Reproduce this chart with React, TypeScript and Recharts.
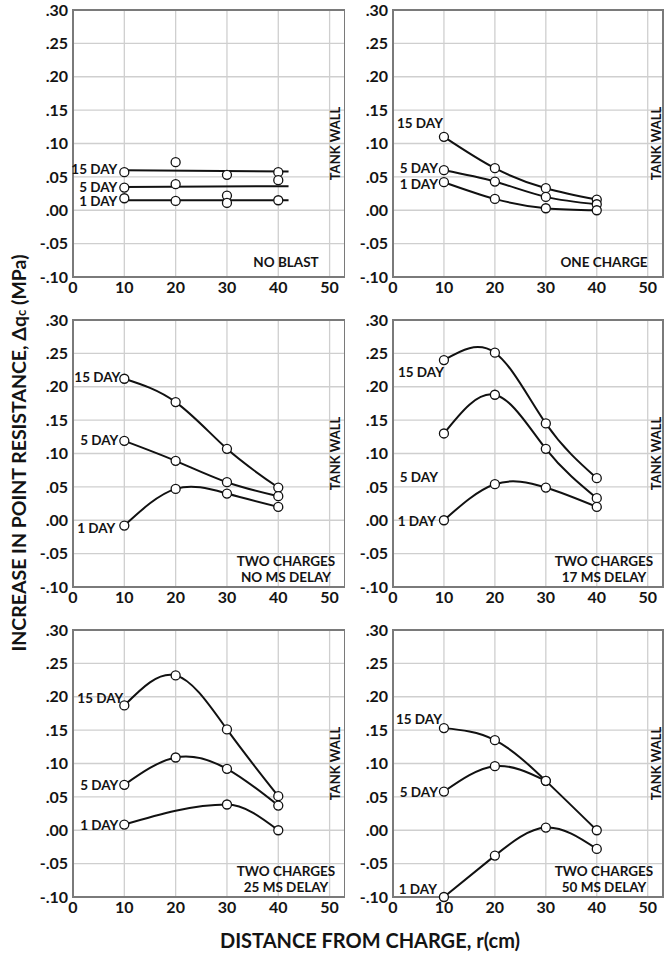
import React from "react";
import {
  ComposedChart,
  Line,
  XAxis,
  YAxis,
  CartesianGrid,
  ReferenceArea,
  ReferenceLine,
} from "recharts";

const FONT = "Lato, 'Open Sans', sans-serif";
const INK = "#141414";

// distances from charge (cm)
const distCm = [10, 20, 30, 40];
const xTicks = [0, 10, 20, 30, 40, 50];
const yTicks = [-0.1, -0.05, 0, 0.05, 0.1, 0.15, 0.2, 0.25, 0.3];

// NO BLAST - measured points and fitted straight lines
const noBlast15 = [0.057, 0.072, 0.053, 0.057];
const noBlast5 = [0.034, 0.039, 0.022, 0.045];
const noBlast1 = [0.018, 0.014, 0.011, 0.015];
const noBlastFitX = [10, 42];
const noBlastFit15 = [0.06, 0.058];
const noBlastFit5 = [0.035, 0.036];
const noBlastFit1 = [0.015, 0.015];

// ONE CHARGE
const oneCharge15 = [0.11, 0.063, 0.033, 0.016];
const oneCharge5 = [0.06, 0.043, 0.02, 0.009];
const oneCharge1 = [0.042, 0.017, 0.003, 0.0];

// TWO CHARGES, NO MS DELAY
const noDelay15 = [0.212, 0.177, 0.107, 0.049];
const noDelay5 = [0.119, 0.089, 0.057, 0.036];
const noDelay1 = [-0.008, 0.047, 0.04, 0.02];

// TWO CHARGES, 17 MS DELAY
const delay17_15 = [0.24, 0.251, 0.145, 0.063];
const delay17_5 = [0.13, 0.188, 0.107, 0.033];
const delay17_1 = [0.0, 0.054, 0.049, 0.02];

// TWO CHARGES, 25 MS DELAY
const delay25_15 = [0.187, 0.232, 0.151, 0.051];
const delay25_5 = [0.068, 0.109, 0.092, 0.037];
const delay25_1X = [10, 30, 40];
const delay25_1 = [0.0085, 0.0386, 0.0];

// TWO CHARGES, 50 MS DELAY
const delay50_15 = [0.153, 0.135, 0.074, 0.0];
const delay50_5X = [10, 20, 30];
const delay50_5 = [0.058, 0.096, 0.074];
const delay50_1 = [-0.1, -0.038, 0.004, -0.028];

const pts = (xs: number[], ys: number[]) => xs.map((x, i) => ({ x, y: ys[i] }));

const fmtY = (v: number) => (v < 0 ? "-" : "") + Math.abs(v).toFixed(2).slice(1);

type Series = {
  name?: string;
  data: { x: number; y: number }[];
  curve?: "natural" | "monotone" | "linear";
  line?: boolean;
  dots?: boolean;
  dx?: number;
  dy?: number;
};

type Panel = {
  title: string[];
  col: number;
  row: number;
  series: Series[];
};

const panels: Panel[] = [
  {
    title: ["NO BLAST"],
    col: 0,
    row: 0,
    series: [
      { name: "15 DAY", data: pts(noBlastFitX, noBlastFit15), curve: "linear", dots: false, dx: -7, dy: -1 },
      { name: "5 DAY", data: pts(noBlastFitX, noBlastFit5), curve: "linear", dots: false, dx: -7 },
      { name: "1 DAY", data: pts(noBlastFitX, noBlastFit1), curve: "linear", dots: false, dx: -7, dy: 1 },
      { data: pts(distCm, noBlast15), line: false },
      { data: pts(distCm, noBlast5), line: false },
      { data: pts(distCm, noBlast1), line: false },
    ],
  },
  {
    title: ["ONE CHARGE"],
    col: 1,
    row: 0,
    series: [
      { name: "15 DAY", data: pts(distCm, oneCharge15), dx: -1, dy: -14 },
      { name: "5 DAY", data: pts(distCm, oneCharge5), dy: -2 },
      { name: "1 DAY", data: pts(distCm, oneCharge1), dy: 2 },
    ],
  },
  {
    title: ["TWO CHARGES", "NO MS DELAY"],
    col: 0,
    row: 1,
    series: [
      { name: "15 DAY", data: pts(distCm, noDelay15), dx: -4, dy: -2 },
      { name: "5 DAY", data: pts(distCm, noDelay5), dy: -1 },
      { name: "1 DAY", data: pts(distCm, noDelay1), dx: -9, dy: 2 },
    ],
  },
  {
    title: ["TWO CHARGES", "17 MS DELAY"],
    col: 1,
    row: 1,
    series: [
      { name: "15 DAY", data: pts(distCm, delay17_15), dx: 0, dy: 12 },
      { name: "5 DAY", data: pts(distCm, delay17_5), dx: -6, dy: 44 },
      { name: "1 DAY", data: pts(distCm, delay17_1), dx: -8, dy: 1 },
    ],
  },
  {
    title: ["TWO CHARGES", "25 MS DELAY"],
    col: 0,
    row: 2,
    series: [
      { name: "15 DAY", data: pts(distCm, delay25_15), dx: -1, dy: -7 },
      { name: "5 DAY", data: pts(distCm, delay25_5) },
      { name: "1 DAY", data: pts(delay25_1X, delay25_1), curve: "monotone" },
    ],
  },
  {
    title: ["TWO CHARGES", "50 MS DELAY"],
    col: 1,
    row: 2,
    series: [
      { name: "15 DAY", data: pts(distCm, delay50_15), dx: -2, dy: -9 },
      { name: "5 DAY", data: pts(delay50_5X, delay50_5) },
      { name: "1 DAY", data: pts(distCm, delay50_1), dx: -7, dy: -8 },
    ],
  },
];

const dayLabel = (text: string, dx: number, dy: number) => (p: any) => {
  const x = p.x ?? p.viewBox?.x;
  const y = p.y ?? p.viewBox?.y;
  if (p.index !== 0 || x == null) return <g key={`l-${p.index}`} />;
  return (
    <text
      key={`l-${p.index}`}
      x={x + dx}
      y={y + dy}
      textAnchor="end"
      fontSize={13.5}
      fontWeight={700}
      fontFamily={FONT}
      fill={INK}
    >
      {text}
    </text>
  );
};

const dotStyle = { r: 4.5, fill: "#fff", stroke: "#111", strokeWidth: 1.3 };

const tickStyle = { fontSize: 16, fontWeight: 700, fill: INK, fontFamily: FONT };

function SmallChart({ panel }: { panel: Panel }) {
  const right = panel.col === 1 ? 2 : 0;
  const width = 312;
  const plotW = width - 40 - right;
  const left = panel.col === 0 ? 33 : 353;
  const top = panel.row * 310;
  const lines = panel.title;
  return (
    <div style={{ position: "absolute", left, top, width, height: 302 }}>
      <ComposedChart
        width={width}
        height={302}
        margin={{ top: 10, right, bottom: 0, left: 0 }}
      >
        <CartesianGrid stroke="#cfcfcf" strokeWidth={1.3} />
        <XAxis
          type="number"
          dataKey="x"
          domain={[0, 53]}
          ticks={xTicks}
          height={25}
          axisLine={false}
          tickLine={false}
          tickSize={3}
          tick={tickStyle}
        />
        <YAxis
          type="number"
          dataKey="y"
          domain={[-0.1, 0.3]}
          ticks={yTicks}
          width={40}
          axisLine={false}
          tickLine={false}
          tickSize={3}
          tickFormatter={fmtY}
          tick={tickStyle}
        />
        <ReferenceArea
          x1={0}
          x2={53}
          y1={-0.1}
          y2={0.3}
          fill="none"
          stroke="#7a7a7a"
          strokeWidth={2}
        />
        <ReferenceLine
          x={panel.col === 0 ? 51.2 : 51.7}
          stroke="#fff"
          strokeOpacity={0}
          label={{
            value: "TANK WALL",
            angle: -90,
            position: "center",
            fill: INK,
            fontSize: 13,
            fontWeight: 700,
            fontFamily: FONT,
          }}
        />
        {panel.series.map((s, i) => (
          <Line
            key={i}
            data={s.data}
            dataKey="y"
            type={s.curve ?? "natural"}
            stroke={s.line === false ? "none" : "#111"}
            strokeWidth={2}
            dot={s.dots === false ? false : dotStyle}
            activeDot={false}
            isAnimationActive={false}
            label={s.name ? dayLabel(s.name, s.dx ?? -6, (s.dy ?? 0) + 5) : undefined}
          />
        ))}
      </ComposedChart>
      <div
        style={{
          position: "absolute",
          left: 40 + plotW - 59,
          top: 10 + 267 - (lines.length === 1 ? 15 : 18),
          transform: "translate(-50%, -50%)",
          whiteSpace: "nowrap",
          textAlign: "center",
          fontFamily: FONT,
          fontWeight: 700,
          fontSize: 13.5,
          lineHeight: "16px",
          color: INK,
        }}
      >
        {lines.map((t, i) => (
          <React.Fragment key={t}>
            {i > 0 && <br />}
            {t}
          </React.Fragment>
        ))}
      </div>
    </div>
  );
}

export default function App() {
  return (
    <div
      style={{
        position: "absolute",
        left: 0,
        top: 0,
        width: 664,
        height: 955,
        background: "#fff",
        fontFamily: FONT,
      }}
    >
      {panels.map((p, i) => (
        <SmallChart key={i} panel={p} />
      ))}
      <div
        style={{
          position: "absolute",
          left: 18,
          top: 453,
          transform: "translate(-50%, -50%) rotate(-90deg)",
          whiteSpace: "nowrap",
          fontSize: 19.5,
          fontWeight: 700,
          color: INK,
        }}
      >
        INCREASE IN POINT RESISTANCE, Δq<span style={{ fontSize: 13 }}>c</span> (MPa)
      </div>
      <div
        style={{
          position: "absolute",
          left: 370,
          top: 940,
          transform: "translate(-50%, -50%)",
          whiteSpace: "nowrap",
          fontSize: 20,
          fontWeight: 700,
          color: INK,
        }}
      >
        DISTANCE FROM CHARGE, r(cm)
      </div>
    </div>
  );
}
